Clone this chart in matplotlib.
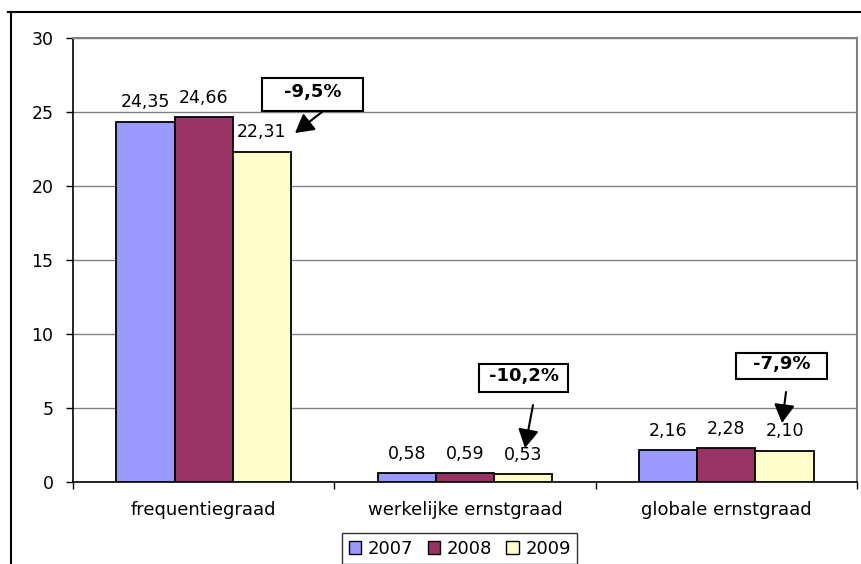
import numpy as np
import matplotlib
matplotlib.use("Agg")
import matplotlib.pyplot as plt
from matplotlib.patches import Patch, Rectangle
from matplotlib.lines import Line2D

# data
categories = ["frequentiegraad", "werkelijke ernstgraad", "globale ernstgraad"]
years = ["2007", "2008", "2009"]
v2007 = [24.35, 0.58, 2.16]
v2008 = [24.66, 0.59, 2.28]
v2009 = [22.31, 0.53, 2.10]
changes = ["-9,5%", "-10,2%", "-7,9%"]

colors = ["#9999FF", "#993366", "#FFFFCC"]

plt.rcParams['font.family'] = ['DejaVu Sans']
plt.rcParams['font.size'] = 12.5

fig = plt.figure(figsize=(8.61, 5.64), dpi=100)
ax = fig.add_axes([73 / 861, 82 / 564, 784 / 861, 444 / 564])

x = np.arange(len(categories))
width = 0.223
series = [v2007, v2008, v2009]
for i, vals in enumerate(series):
    pos = x + (i - 1) * width
    ax.bar(pos, vals, width, color=colors[i], edgecolor="black", linewidth=1.3, zorder=3)
    for px, v in zip(pos, vals):
        ax.annotate(f"{v:.2f}".replace(".", ","), (px, v), xytext=(0, 14),
                    textcoords="offset points", ha="center", va="center", fontsize=12.5)

ax.set_xlim(-0.5, 2.5)
ax.set_ylim(0, 30)
ax.set_yticks(range(0, 31, 5))
ax.yaxis.grid(True, color="#808080", linewidth=1, zorder=0)
ax.set_xticks(x)
ax.set_xticklabels(categories, fontsize=13)
ax.set_xticks([-0.5, 0.5, 1.5, 2.5], minor=True)
ax.tick_params(axis="x", which="major", length=0, pad=14)
ax.tick_params(axis="x", which="minor", length=5, width=1, direction="out")
ax.tick_params(axis="y", length=5, width=1, direction="out", pad=9)
for s in ["top", "right"]:
    ax.spines[s].set_color("#808080")
    ax.spines[s].set_linewidth(1.5)
for s in ["left", "bottom"]:
    ax.spines[s].set_color("black")
    ax.spines[s].set_linewidth(1.2)

# callout boxes with arrows pointing at the 2009 bars
boxes = [(0.2233, 25.07, 0.3865, 2.23), (1.0538, 6.08, 0.3406, 1.89), (2.0373, 6.96, 0.3483, 1.76)]
arrows = [((0.4528, 25.0), (0.3495, 23.58)), ((1.2602, 5.20), (1.2296, 2.30)), ((2.2284, 6.08), (2.2131, 3.99))]
for (bx, by, bw, bh), (start, tip), txt in zip(boxes, arrows, changes):
    ax.add_patch(Rectangle((bx, by), bw, bh, facecolor="white", edgecolor="black",
                           linewidth=1.5, zorder=5))
    ax.text(bx + bw / 2, by + bh / 2 + 0.15, txt, ha="center", va="center",
            fontweight="bold", fontsize=13, zorder=6)
    ax.annotate("", xy=tip, xytext=start,
                arrowprops=dict(arrowstyle="-|>,head_length=0.8,head_width=0.45",
                                mutation_scale=14, color="black", lw=1.5,
                                shrinkA=0, shrinkB=0), zorder=6)

handles = [Patch(facecolor=c, edgecolor="black", linewidth=1) for c in colors]
leg = fig.legend(handles, years, loc="center", bbox_to_anchor=(0.534, 0.027),
                 ncol=3, frameon=True, fancybox=False, handlelength=0.7,
                 handleheight=0.7, handletextpad=0.35, columnspacing=0.8,
                 borderpad=0.35, fontsize=13)
leg.get_frame().set_edgecolor("black")
leg.get_frame().set_linewidth(1)

# outer chart-area border (left and top edges visible)
fig.add_artist(Line2D([11 / 861, 11 / 861], [0, 1 - 12 / 564], color="black", lw=1.5))
fig.add_artist(Line2D([8 / 861, 1], [1 - 12 / 564, 1 - 12 / 564], color="black", lw=1.5))

fig.savefig("out.png", dpi=100)
